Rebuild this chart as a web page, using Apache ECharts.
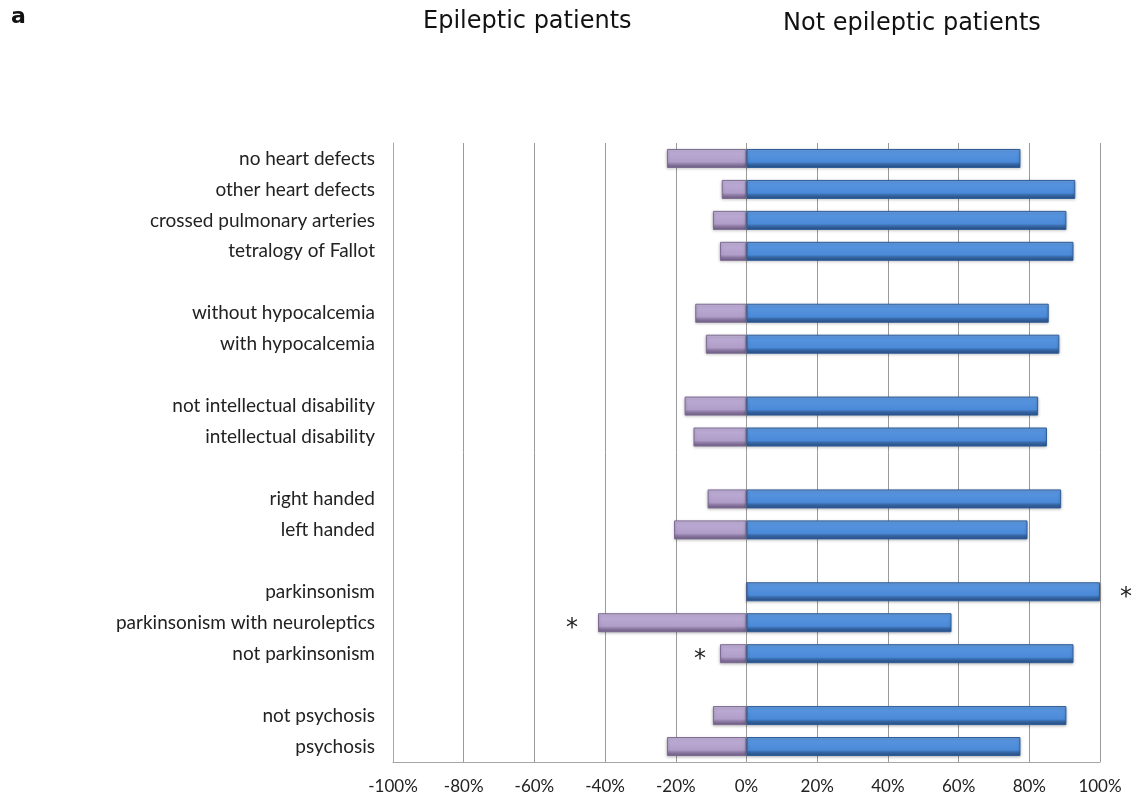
<!DOCTYPE html>
<html>
<head>
<meta charset="utf-8">
<script src="https://cdn.jsdelivr.net/npm/echarts@6/dist/echarts.min.js"></script>
<style>
  html, body { margin: 0; padding: 0; background: #ffffff; }
  #chart { width: 1140px; height: 802px; }
</style>
</head>
<body>
<div id="chart"></div>
<script>
// Groups are separated by empty slots (''), listed from top to bottom.
const categories = [
  'no heart defects', 'other heart defects', 'crossed pulmonary arteries', 'tetralogy of Fallot',
  '',
  'without hypocalcemia', 'with hypocalcemia',
  '',
  'not intellectual disability', 'intellectual disability',
  '',
  'right handed', 'left handed',
  '',
  'parkinsonism', 'parkinsonism with neuroleptics', 'not parkinsonism',
  '',
  'not psychosis', 'psychosis'
];

// Share of epileptic patients (drawn to the left, negative)
const epileptic = [
  -22.5, -7, -9.5, -7.5,
  null,
  -14.5, -11.5,
  null,
  -17.5, -15,
  null,
  -11, -20.5,
  null,
  0, -42, -7.5,
  null,
  -9.5, -22.5
];

// Share of non-epileptic patients (drawn to the right)
const notEpileptic = [
  77.5, 93, 90.5, 92.5,
  null,
  85.5, 88.5,
  null,
  82.5, 85,
  null,
  89, 79.5,
  null,
  100, 58, 92.5,
  null,
  90.5, 77.5
];

// Significant differences, marked with an asterisk beside the bar
const starNotEpileptic = ['parkinsonism'];
const starEpileptic = ['parkinsonism with neuroleptics', 'not parkinsonism'];

const xTicks = { min: -100, max: 100, step: 20 };

const purpleFill = new echarts.graphic.LinearGradient(0, 0, 0, 1, [
  { offset: 0, color: '#cfc2e2' },
  { offset: 0.15, color: '#bcabd5' },
  { offset: 0.68, color: '#b09ec9' },
  { offset: 0.8, color: '#8e7ba6' },
  { offset: 1, color: '#6c5c80' }
]);
const blueFill = new echarts.graphic.LinearGradient(0, 0, 0, 1, [
  { offset: 0, color: '#74a7e8' },
  { offset: 0.15, color: '#5895e0' },
  { offset: 0.68, color: '#4b8ad8' },
  { offset: 0.8, color: '#3667a6' },
  { offset: 1, color: '#284e84' }
]);

const starLabel = (pos, dist) => ({
  show: true,
  position: pos,
  distance: dist,
  formatter: '*',
  fontFamily: 'DejaVu Sans',
  fontSize: 24,
  color: '#222',
  offset: [0, 6]
});

const leftData = epileptic.map((v, i) => {
  const name = categories[i];
  if (starEpileptic.includes(name)) {
    return { value: v, label: starLabel('left', name === 'not parkinsonism' ? 14 : 20) };
  }
  return v;
});

const rightData = notEpileptic.map((v, i) => {
  const name = categories[i];
  if (starNotEpileptic.includes(name)) {
    return { value: v, label: starLabel('right', 20) };
  }
  return v;
});

const chart = echarts.init(document.getElementById('chart'), null, { renderer: 'canvas' });

chart.setOption({
  backgroundColor: '#ffffff',
  animation: false,
  title: [
    {
      text: 'a', left: 6, top: 1,
      textStyle: { fontFamily: 'DejaVu Sans', fontSize: 22, fontWeight: 'bold', color: '#111' }
    },
    {
      text: 'Epileptic patients', left: 418, top: 5,
      textStyle: { fontFamily: 'DejaVu Sans', fontSize: 24, fontWeight: 'normal', color: '#111' }
    },
    {
      text: 'Not epileptic patients', left: 778, top: 7,
      textStyle: { fontFamily: 'DejaVu Sans', fontSize: 24, fontWeight: 'normal', color: '#111' }
    }
  ],
  grid: { left: 393, right: 40, top: 143, bottom: 40, containLabel: false },
  xAxis: {
    type: 'value',
    min: xTicks.min,
    max: xTicks.max,
    interval: xTicks.step,
    axisLine: { show: true, lineStyle: { color: '#a6a6a6', width: 1 } },
    axisTick: { show: false },
    axisLabel: {
      formatter: '{value}%',
      fontFamily: 'Lato',
      fontSize: 17,
      color: '#222',
      margin: 16
    },
    splitLine: { show: true, lineStyle: { color: '#9a9a9a', width: 1 } }
  },
  yAxis: {
    type: 'category',
    data: categories,
    inverse: true,
    axisLine: { show: true, onZero: false, lineStyle: { color: '#a6a6a6', width: 1 } },
    axisTick: { show: false },
    axisLabel: {
      fontFamily: 'Lato',
      fontSize: 19,
      color: '#222',
      margin: 18
    },
    splitLine: { show: false }
  },
  series: [
    {
      name: 'Epileptic patients',
      type: 'bar',
      data: leftData,
      barWidth: 19,
      barGap: '-100%',
      itemStyle: {
        color: purpleFill,
        borderColor: '#7d6b93',
        borderWidth: 1,
        shadowColor: 'rgba(0,0,0,0.25)',
        shadowBlur: 3,
        shadowOffsetY: 1
      },
      z: 2
    },
    {
      name: 'Not epileptic patients',
      type: 'bar',
      data: rightData,
      barWidth: 19,
      barGap: '-100%',
      itemStyle: {
        color: blueFill,
        borderColor: '#2f5d99',
        borderWidth: 1,
        shadowColor: 'rgba(0,0,0,0.25)',
        shadowBlur: 3,
        shadowOffsetY: 1
      },
      z: 3
    }
  ]
});
</script>
</body>
</html>
